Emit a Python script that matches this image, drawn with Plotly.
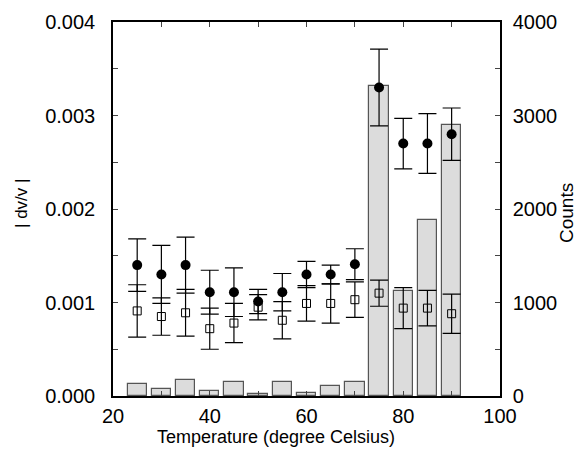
import plotly.graph_objects as go

temps = [25, 30, 35, 40, 45, 50, 55, 60, 65, 70, 75, 80, 85, 90]
counts = [133, 79, 172, 54, 150, 26, 150, 32, 111, 150, 3320, 1120, 1880, 2900]
dv_all = [0.00140, 0.00130, 0.00140, 0.00111, 0.00111, 0.00101, 0.00111, 0.00130, 0.00130, 0.00141,
          0.00330, 0.00270, 0.00270, 0.00280]
dv_all_err = [0.00028, 0.00031, 0.00030, 0.000235, 0.00026, 0.00013, 0.00020, 0.00014, 0.00010, 0.000165,
              0.00041, 0.00027, 0.00032, 0.00028]
dv_sel = [0.00091, 0.00085, 0.00089, 0.00072, 0.00078, 0.00095, 0.00081, 0.00099, 0.00099, 0.00103,
          0.00110, 0.00094, 0.00094, 0.00088]
dv_sel_err = [0.00028, 0.00020, 0.00025, 0.00022, 0.00021, 0.000135, 0.00020, 0.00019, 0.00021, 0.00019,
              0.00014, 0.00022, 0.00019, 0.00021]

FAM = "Liberation Sans, Arial, sans-serif"
tickfont = dict(family=FAM, size=20, color="black")

# plot area in window pixels: x 113..500, y 22..396 (page body has an 8px offset)
L, R, T, B = 113, 500, 22, 396
OFF = 8

fig = go.Figure()
fig.add_trace(go.Bar(x=temps, y=counts, width=4, yaxis="y",
                     marker=dict(color="#dcdcdc", line=dict(color="#555555", width=1.2)),
                     showlegend=False))
fig.add_trace(go.Scatter(x=temps, y=dv_sel, yaxis="y2", mode="markers",
                         marker=dict(symbol="square-open", size=8, color="black", line=dict(width=1)),
                         error_y=dict(type="data", array=dv_sel_err, color="black", thickness=1.2, width=9),
                         showlegend=False))
fig.add_trace(go.Scatter(x=temps, y=dv_all, yaxis="y2", mode="markers",
                         marker=dict(symbol="circle", size=10, color="black"),
                         error_y=dict(type="data", array=dv_all_err, color="black", thickness=1.2, width=9),
                         showlegend=False))

W, H = 582, 450
fig.update_layout(
    width=W, height=H,
    margin=dict(l=L - OFF, r=W - R + OFF, t=T - OFF, b=H - B + OFF, autoexpand=False),
    paper_bgcolor="white", plot_bgcolor="white",
    font=dict(family=FAM, size=18, color="black"),
    bargap=0,
    xaxis=dict(range=[20, 100], tickvals=[20, 40, 60, 80, 100], ticks="inside", ticklen=5,
               minor=dict(tickvals=[30, 50, 70, 90], ticks="inside", ticklen=5),
               showline=True, linecolor="black", linewidth=1.5, mirror="ticks",
               showgrid=False, zeroline=False, tickfont=tickfont, ticklabelstandoff=1),
    yaxis=dict(range=[0, 4000], side="right", tickvals=[0, 1000, 2000, 3000, 4000],
               ticks="inside", ticklen=5,
               minor=dict(dtick=500, ticks="inside", ticklen=5),
               showline=True, linecolor="black", linewidth=1.5, showgrid=False, zeroline=False,
               tickfont=tickfont, ticklabelstandoff=7),
    yaxis2=dict(range=[0, 0.004], side="left", overlaying="y", anchor="x",
                tickvals=[0, 0.001, 0.002, 0.003, 0.004], tickformat=".3f",
                ticks="inside", ticklen=5,
                minor=dict(dtick=0.0005, ticks="inside", ticklen=5),
                showline=True, linecolor="black", linewidth=1.5, showgrid=False, zeroline=False,
                tickfont=tickfont, ticklabelstandoff=12),
    annotations=[
        dict(text="Temperature (degree Celsius)", xref="paper", yref="paper",
             x=(276 - L) / (R - L), y=-(437 - B) / (B - T), xanchor="center", yanchor="middle",
             showarrow=False, font=dict(family=FAM, size=18, color="black")),
        dict(text="| dv/v |", xref="paper", yref="paper",
             x=(22 - L) / (R - L), y=(B - 204) / (B - T), xanchor="center", yanchor="middle",
             textangle=-90, showarrow=False, font=dict(family=FAM, size=17, color="black")),
        dict(text="Counts", xref="paper", yref="paper",
             x=(566 - L) / (R - L), y=(B - 213) / (B - T), xanchor="center", yanchor="middle",
             textangle=-90, showarrow=False, font=dict(family=FAM, size=19, color="black")),
    ],
)

fig.write_html("out.html")
